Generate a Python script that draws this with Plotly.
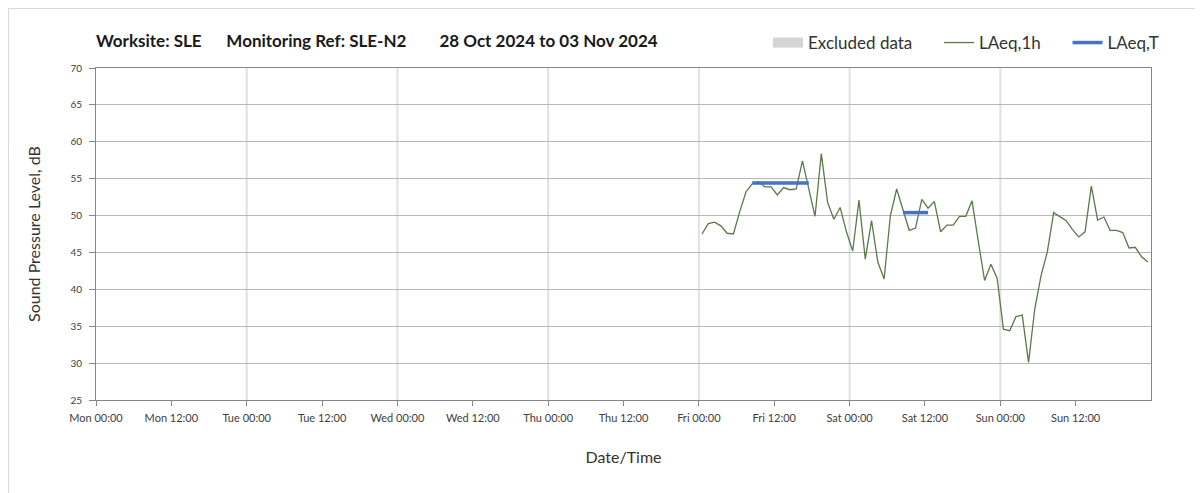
import pandas as pd
import plotly.graph_objects as go

# hourly LAeq,1h values, Fri 00:30 .. Sun 23:30 (one per hour)
start_time = '2024-11-01 00:30'
laeq_1h = [
    47.5, 48.9, 49.1, 48.6, 47.6, 47.5, 50.5, 53.2, 54.3, 54.6,
    53.9, 53.9, 52.8, 53.8, 53.5, 53.6, 57.4, 53.8, 49.9, 58.4,
    51.8, 49.5, 51.1, 47.8, 45.2, 52.1, 44.1, 49.3, 43.7, 41.4,
    50.0, 53.6, 50.8, 48.0, 48.3, 52.2, 51.0, 51.9, 47.8, 48.7,
    48.7, 49.9, 49.9, 52.0, 46.5, 41.2, 43.4, 41.5, 34.6, 34.4,
    36.3, 36.5, 30.1, 37.4, 41.9, 45.1, 50.4, 49.8, 49.3, 48.1,
    47.1, 47.8, 54.0, 49.4, 49.8, 48.0, 48.0, 47.7, 45.6, 45.7,
    44.4, 43.7,
]

# LAeq,T periods
period_start = ['2024-11-01 08:30', '2024-11-02 08:30']
period_end = ['2024-11-01 17:30', '2024-11-02 12:30']
laeq_t = [54.4, 50.4]

times = pd.date_range(start_time, periods=len(laeq_1h), freq='h')

tx, ty = [], []
for s, e, v in zip(period_start, period_end, laeq_t):
    tx += [pd.Timestamp(s), pd.Timestamp(e), None]
    ty += [v, v, None]

nb = '\u00a0'

# plot area in page pixels: left 88, top 60, 1055 x 332
L, T, W, H = 88, 60, 1055, 332

fig = go.Figure()
# no excluded periods this week - legend entry only
fig.add_trace(go.Scatter(x=[times[0]], y=[None], name='Excluded data' + nb * 5,
                         mode='lines', line=dict(width=10, color='#d4d4d4')))
fig.add_trace(go.Scatter(x=times, y=laeq_1h, mode='lines', name='LAeq,1h' + nb * 5,
                         line=dict(color='#5a7a4c', width=1.3)))
fig.add_trace(go.Scatter(x=tx, y=ty, mode='lines', name='LAeq,T',
                         line=dict(color='#4472c4', width=3.5)))

# vertical grid at each midnight
for d in pd.date_range('2024-10-29', periods=6, freq='D'):
    fig.add_shape(type='line', x0=d, x1=d, y0=0, y1=1, xref='x', yref='paper',
                  line=dict(color='#e0e0e0', width=2), layer='below')

# outer frame
fig.add_shape(type='rect', xref='paper', yref='paper',
              x0=(0.5 - L) / W, x1=(1230 - L) / W,
              y0=(T + H - 520) / H, y1=(T + H - 0.5) / H,
              line=dict(color='#d9d9d9', width=1), layer='below')

ticks = pd.date_range('2024-10-28', periods=14, freq='12h')

fig.update_xaxes(type='date', range=['2024-10-28', '2024-11-04'], tickvals=ticks,
                 tickformat='%a %H:%M', showgrid=False, automargin=False,
                 showline=True, linecolor='#868686', mirror=True,
                 ticks='outside', ticklen=5, tickcolor='#868686',
                 ticklabelstandoff=3,
                 tickfont=dict(size=11, color='#404040'),
                 title=dict(text='Date/Time', font=dict(size=16, color='#333333'),
                            standoff=28),
                 zeroline=False)
fig.update_yaxes(range=[25, 70], dtick=5, showgrid=True, gridcolor='#b8b8b8',
                 showline=True, linecolor='#868686', mirror=True, automargin=False,
                 ticks='outside', ticklen=6, tickcolor='#868686',
                 ticklabelstandoff=5,
                 tickfont=dict(size=10, color='#404040'),
                 title=dict(text='Sound Pressure Level, dB',
                            font=dict(size=16, color='#333333'), standoff=25),
                 zeroline=False)

title = ('Worksite: SLE' + nb * 6 + 'Monitoring Ref: SLE-N2' + nb * 8 +
         '28 Oct 2024 to 03 Nov 2024')

fig.update_layout(
    width=1203, height=493,
    margin=dict(l=L, r=1203 - L - W, t=T, b=493 - T - H),
    paper_bgcolor='white', plot_bgcolor='white',
    font=dict(family='Lato, sans-serif', color='#333333'),
    title=dict(text='<b>' + title + '</b>', x=L / 1203, xanchor='left',
               y=1 - 33 / 493, yanchor='middle',
               font=dict(size=17, color='#1a1a1a')),
    showlegend=True,
    legend=dict(orientation='h', x=(1156 - L) / W, xanchor='right',
                y=(T + H - 35) / H, yanchor='middle', itemwidth=30,
                font=dict(size=17, color='#333333'), bgcolor='rgba(0,0,0,0)'),
)

fig.write_html('out.html')
